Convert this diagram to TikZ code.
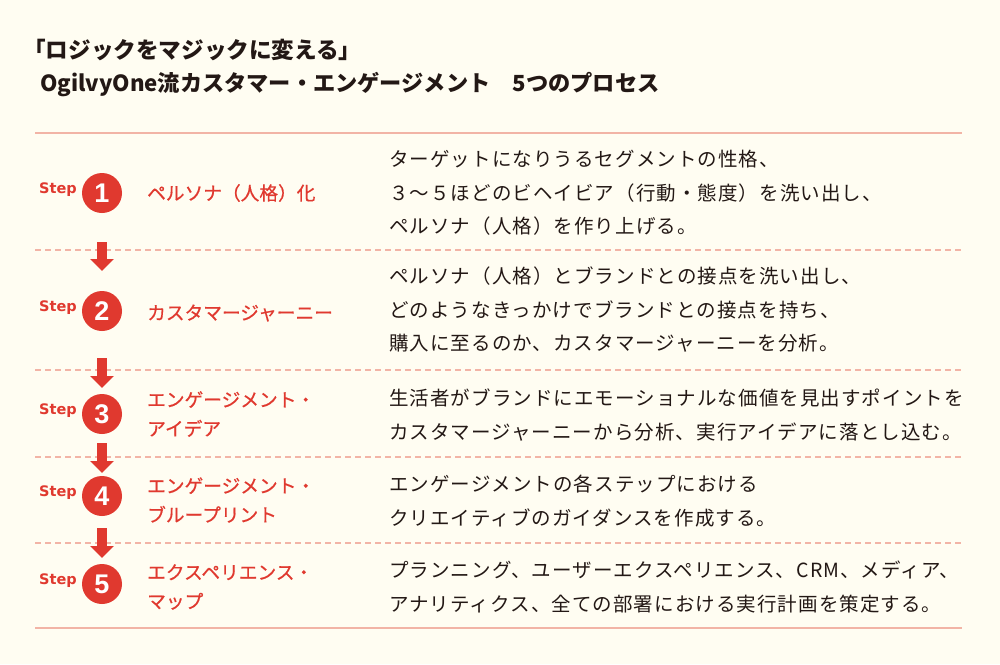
\documentclass[tikz,border=0pt]{standalone}
\usepackage{fontspec}
\usetikzlibrary{arrows.meta}
\setmainfont{Noto Sans CJK JP}
\newfontfamily\descfont{Noto Sans CJK JP}[LetterSpace=5.5]
\newfontfamily\labfont{Noto Sans CJK JP}[FakeBold=0.6]
\newfontfamily\stepfont{DejaVu Sans}
\newfontfamily\numfont{Liberation Sans}
\definecolor{bgc}{HTML}{FFFDF2}
\definecolor{redc}{HTML}{E0392F}
\definecolor{rulec}{HTML}{F2B4A6}
\definecolor{inkc}{HTML}{231815}
\begin{document}
\begin{tikzpicture}[x=1pt,y=-1pt,
  rulesolid/.style={draw=rulec, line width=1.4pt},
  ruledash/.style={draw=rulec, line width=1.2pt, dash pattern=on 6pt off 4pt},
  stepcircle/.style={circle, fill=redc, minimum size=40pt, inner sep=0pt, text=white, font=\numfont\fontsize{27}{27}\bfseries},
  steptag/.style={anchor=east, inner sep=0pt, text=redc, font=\stepfont\fontsize{14.5}{14.5}\bfseries},
  steplabel/.style={anchor=west, inner sep=0pt, text=redc, align=left, font=\labfont\fontsize{18.7}{29}\selectfont},
  desc/.style={anchor=west, inner sep=0pt, text=inkc, align=left, font=\descfont\fontsize{19.5}{33.5}\selectfont},
  titletext/.style={anchor=west, inner sep=0pt, text=inkc, font=\fontsize{22.6}{26}\bfseries},
  blockarrow/.style={draw=redc, line width=10pt, -{Triangle[width=23pt,length=12pt]}, shorten >=0pt}
]
\fill[bgc] (0,0) rectangle (1000,664);
\useasboundingbox (0,0) rectangle (1000,664);

% title
\node[titletext] (t1) at (23,50) {「ロジックをマジックに変える」};
\node[titletext, font=\fontsize{22.2}{26}\bfseries] (t2) at (40,85) {OgilvyOne流カスタマー・エンゲージメント　5つのプロセス};

% rules
\draw[rulesolid] (35,133) -- (962,133);
\draw[ruledash] (35,250) -- (962,250);
\draw[ruledash] (35,370) -- (962,370);
\draw[ruledash] (35,457) -- (962,457);
\draw[ruledash] (35,543) -- (962,543);
\draw[rulesolid] (35,628) -- (962,628);

% step circles
\node[stepcircle] (c1) at (102,193) {1};
\node[stepcircle] (c2) at (102,311) {2};
\node[stepcircle] (c3) at (102,414) {3};
\node[stepcircle] (c4) at (102,496) {4};
\node[stepcircle] (c5) at (102,584) {5};

\node[steptag] (s1) at (77,190) {Step};
\node[steptag] (s2) at (77,308) {Step};
\node[steptag] (s3) at (77,411) {Step};
\node[steptag] (s4) at (77,493) {Step};
\node[steptag] (s5) at (77,581) {Step};

% arrows
\coordinate (a1s) at (102,242); \coordinate (a1e) at (102,271);
\coordinate (a2s) at (102,358); \coordinate (a2e) at (102,388);
\coordinate (a3s) at (102,443); \coordinate (a3e) at (102,473);
\coordinate (a4s) at (102,528); \coordinate (a4e) at (102,558);
\draw[blockarrow] (a1s) -- (a1e);
\draw[blockarrow] (a2s) -- (a2e);
\draw[blockarrow] (a3s) -- (a3e);
\draw[blockarrow] (a4s) -- (a4e);

% step labels
\node[steplabel] (l1) at (147,193) {ペルソナ（人格）化};
\node[steplabel] (l2) at (147,313) {カスタマージャーニー};
\node[steplabel] (l3) at (147,414) {エンゲージメント・\\アイデア};
\node[steplabel] (l4) at (147,500) {エンゲージメント・\\ブループリント};
\node[steplabel] (l5) at (147,587) {エクスペリエンス・\\マップ};

% descriptions
\node[desc] (d1) at (389,193) {ターゲットになりうるセグメントの性格、\\３〜５ほどのビヘイビア（行動・態度）を洗い出し、\\ペルソナ（人格）を作り上げる。};
\node[desc] (d2) at (389,310) {ペルソナ（人格）とブランドとの接点を洗い出し、\\どのようなきっかけでブランドとの接点を持ち、\\購入に至るのか、カスタマージャーニーを分析。};
\node[desc] (d3) at (389,415) {生活者がブランドにエモーショナルな価値を見出すポイントを\\カスタマージャーニーから分析、実行アイデアに落とし込む。};
\node[desc] (d4) at (389,501) {エンゲージメントの各ステップにおける\\クリエイティブのガイダンスを作成する。};
\node[desc] (d5) at (389,587) {プランニング、ユーザーエクスペリエンス、CRM、メディア、\\アナリティクス、全ての部署における実行計画を策定する。};
\end{tikzpicture}
\end{document}
